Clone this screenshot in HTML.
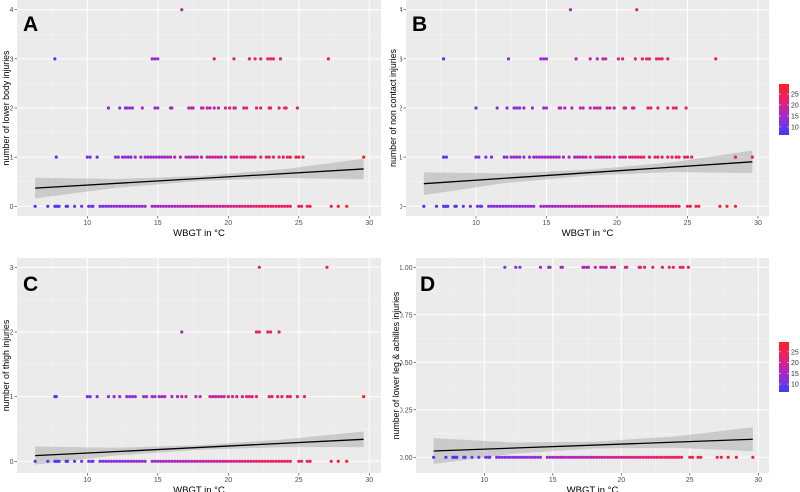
<!DOCTYPE html>
<html><head><meta charset="utf-8"><style>
html,body{margin:0;padding:0;background:#fff;}
svg{display:block;font-family:"Liberation Sans",sans-serif;}
</style></head><body>
<svg id="fig" width="800" height="492" viewBox="0 0 800 492"></svg>
<script>
// ---------- data ----------
const zeroRow=[6.3,7.2,7.7,7.8,7.9,8.0,8.5,8.6,9.1,9.6,10.1,10.3,10.4,10.9,11.1,11.3,11.5,11.7,11.9,12.1,12.3,12.5,12.7,12.9,13.1,13.3,13.5,13.7,13.9,14.1,14.6,14.8,15.0,15.2,15.4,15.6,15.8,16.0,16.2,16.4,16.6,16.8,17.0,17.2,17.4,17.6,17.8,18.0,18.2,18.4,18.6,18.8,19.0,19.2,19.4,19.6,19.8,20.0,20.2,20.4,20.6,20.8,21.0,21.2,21.4,21.6,21.8,22.0,22.2,22.4,22.6,22.8,23.0,23.2,23.4,23.6,23.8,24.0,24.2,24.4,25.0,25.2,25.6,25.8,27.3,27.8,28.4];
const aRow1=[7.8,10.0,10.2,10.7,12.0,12.2,12.5,12.7,12.9,13.1,13.4,13.8,14.1,14.3,14.5,14.7,14.9,15.1,15.3,15.5,15.7,15.9,16.2,16.6,17.0,17.2,17.4,17.6,17.8,18.1,18.5,18.7,18.9,19.1,19.3,19.5,19.8,20.2,20.4,20.6,20.9,21.1,21.3,21.5,21.7,21.9,22.3,22.7,22.9,23.2,23.6,23.9,24.2,24.4,24.8,25.0,25.3,29.6];
const aRow2=[11.5,12.3,12.7,12.8,13.0,13.2,13.9,14.8,15.0,15.9,16.0,17.2,17.4,17.5,18.1,18.2,18.5,18.7,19.0,19.3,19.8,20.1,20.4,20.5,21.1,21.3,22.0,22.3,22.9,23.0,23.6,24.0,24.1,24.9];
const aRow3=[7.7,14.6,14.8,15.0,19.0,20.4,21.5,21.9,22.3,22.8,23.0,23.2,23.7,27.1];
const aRow4=[16.7];
const bRow1=[7.7,7.9,10.0,10.2,10.7,11.1,12.0,12.2,12.5,12.7,12.9,13.1,13.4,13.8,14.1,14.3,14.5,14.7,14.9,15.1,15.3,15.5,15.7,15.9,16.2,16.6,17.0,17.2,17.4,17.6,17.8,18.1,18.5,18.7,18.9,19.1,19.3,19.5,19.8,20.2,20.4,20.6,20.9,21.1,21.3,21.5,21.7,21.9,22.3,22.7,22.9,23.2,23.6,23.9,24.2,24.4,24.8,25.0,25.3,28.4,29.6];
const bRow2=[10.0,11.5,12.2,12.7,12.9,13.1,13.4,14.0,14.8,15.0,15.9,16.0,16.3,16.8,17.4,17.6,18.1,18.4,18.6,18.8,19.3,19.5,19.8,20.5,20.6,21.1,21.2,22.2,22.4,22.9,23.6,24.0,24.2,24.9];
const bRow3=[7.7,12.3,14.6,14.8,15.0,17.1,18.1,18.6,19.0,19.2,20.1,20.4,21.3,21.8,22.1,22.3,22.8,23.0,23.2,23.6,27.0];
const bRow4=[16.7,21.4];
const cRow1=[7.7,7.8,10.0,10.2,10.7,11.5,11.9,12.3,12.8,13.0,13.2,13.4,14.0,14.2,14.6,14.8,15.1,15.3,15.5,16.0,16.4,16.7,17.0,17.7,18.0,18.7,18.9,19.1,19.3,19.5,19.7,20.0,20.3,20.6,21.0,21.3,21.5,21.7,22.0,22.9,23.1,23.5,23.8,24.2,24.4,24.9,25.4,29.6];
const cRow2=[16.7,22.0,22.2,22.8,23.0,23.6];
const cRow3=[22.2,27.0];
const dRow1=[11.5,12.3,12.6,14.1,14.7,14.8,15.6,15.7,17.2,17.3,17.5,17.6,18.1,18.5,18.7,18.9,19.3,19.5,20.3,20.4,21.3,21.4,21.7,22.3,23.0,23.5,23.8,24.3,24.5,24.9];
const dZeroExtra=[27.0,29.6];
// fitted lines: value at x=6.3 and x=29.6; CI half widths at bandX
const bandX=[6.3,12,18,24,29.6];
const fitA=[0.37,0.76], halfA=[0.21,0.09,0.05,0.09,0.21];
const fitB=[0.46,0.905], halfB=[0.23,0.10,0.06,0.10,0.23];
const fitC=[0.088,0.34], halfC=[0.14,0.06,0.035,0.06,0.12];
const fitD=[0.033,0.095], halfD=[0.068,0.03,0.018,0.03,0.063];
const xTicks=[10,15,20,25,30];
const yTicksInt4=[0,1,2,3,4], yTicksInt3=[0,1,2,3];
const yTicksD=[0,0.25,0.5,0.75,1.0];
const yLabelsD=["0.00","0.25","0.50","0.75","1.00"];
const legendTicks=[10,15,20,25];
// ---------- drawing ----------
const NS="http://www.w3.org/2000/svg";
const svg=document.getElementById('fig');
function mk(tag,at,parent){const e=document.createElementNS(NS,tag);for(const k in at)e.setAttribute(k,at[k]);(parent||svg).appendChild(e);return e;}
const defs=mk('defs',{});
const cp=mk('clipPath',{id:'rightClip'},defs);
mk('rect',{x:400,y:0,width:400,height:492},cp);
const cStops=[[6.3,[59,59,255]],[12,[138,47,224]],[17,[181,38,181]],[22,[229,34,114]],[29.6,[255,32,32]]];
function col(v){if(v<=cStops[0][0])return 'rgb('+cStops[0][1]+')';for(let i=1;i<cStops.length;i++){if(v<=cStops[i][0]){const a=cStops[i-1],b=cStops[i];const t=(v-a[0])/(b[0]-a[0]);return 'rgb('+a[1].map((c,j)=>Math.round(c+(b[1][j]-c)*t)).join(',')+')';}}return 'rgb(255,32,32)';}
function panel(o){
  const g=mk('g',{});
  
  
  const sx=v=>o.x10+(v-10)*(o.x30-o.x10)/20;
  const sy=v=>o.y0+(v-o.yMin)*(o.yTop-o.y0)/(o.yMax-o.yMin);
  const bg=mk('rect',{x:o.L,y:o.T,width:o.R-o.L,height:o.B-o.T,fill:'#ebebeb'},g);
  
  
  for(let v=7.5;v<=30;v+=5){const X=sx(v);if(X>o.L&&X<o.R)mk('line',{x1:X,x2:X,y1:o.T,y2:o.B,stroke:'#f5f5f5','stroke-width':0.5},g);}
  for(let i=0;i<o.yt.length-1;i++){const Y=sy((o.yt[i]+o.yt[i+1])/2);mk('line',{x1:o.L,x2:o.R,y1:Y,y2:Y,stroke:'#f5f5f5','stroke-width':0.5},g);}
  xTicks.forEach(v=>{const X=sx(v);mk('line',{x1:X,x2:X,y1:o.T,y2:o.B,stroke:'#fff','stroke-width':1},g);
    mk('line',{x1:X,x2:X,y1:o.B,y2:o.B+2.5,stroke:'#333','stroke-width':0.6},g);
    const t=mk('text',{x:X,y:o.B+9,'font-size':7,fill:'#4d4d4d','text-anchor':'middle'},g);t.textContent=v;
    
    });
  const tg=mk('g',o.clip?{'clip-path':'url(#rightClip)'}:{},g);
  o.yt.forEach((v,i)=>{const Y=sy(v);mk('line',{x1:o.L,x2:o.R,y1:Y,y2:Y,stroke:'#fff','stroke-width':1},g);
    mk('line',{x1:o.L-2.5,x2:o.L,y1:Y,y2:Y,stroke:'#333','stroke-width':0.6},g);
    const t=mk('text',{x:o.L-3.5,y:Y+2.5,'font-size':7,fill:'#4d4d4d','text-anchor':'end'},tg);t.textContent=o.yl?o.yl[i]:v;
    
    });
  const [f0,f1]=o.fit;const fy=x=>f0+(x-6.3)*(f1-f0)/(29.6-6.3);
  let up=bandX.map((x,i)=>sx(x)+','+sy(fy(x)+o.half[i]));
  let lo=bandX.map((x,i)=>sx(x)+','+sy(fy(x)-o.half[i])).reverse();
  const band=mk('polygon',{points:up.concat(lo).join(' '),fill:'#999','fill-opacity':0.4},g);
  
  
  o.rows.forEach(r=>{r.xs.forEach(x=>{const c=mk('circle',{cx:sx(x),cy:sy(r.y),r:1.6,fill:col(x)},g);
    
    });});
  const ln=mk('line',{x1:sx(6.3),y1:sy(f0),x2:sx(29.6),y2:sy(f1),stroke:'#000','stroke-width':1.3},g);
  
  
  const lt=mk('text',{x:o.lx,y:o.ly,'font-size':21,'font-weight':'bold',fill:'#000'},g);lt.textContent=o.id;
  
  
  const xt=mk('text',{x:(o.L+o.R)/2,y:o.B+20,'font-size':9.5,fill:'#000','text-anchor':'middle'},g);xt.textContent='WBGT in °C';
  
  
  const cy=(o.T+o.B)/2;
  const yt=mk('text',{x:o.tx,y:cy,'font-size':8.8,fill:'#000','text-anchor':'middle',transform:'rotate(-90 '+o.tx+' '+cy+')'},g);yt.textContent=o.title;
  
  
}
panel({id:'A',L:17,R:381,T:0,B:216,x10:87.3,x30:369.3,y0:206.3,yTop:9.7,yMin:0,yMax:4,yt:yTicksInt4,fit:fitA,half:halfA,lx:23,ly:31,tx:9,title:'number of lower body injuries',
  rows:[{y:0,xs:zeroRow},{y:1,xs:aRow1},{y:2,xs:aRow2},{y:3,xs:aRow3},{y:4,xs:aRow4}]});
panel({id:'B',L:406,R:769,T:0,B:216,x10:476,x30:758,y0:206.3,yTop:9.7,yMin:0,yMax:4,yt:yTicksInt4,fit:fitB,half:halfB,lx:412,ly:31,tx:396,clip:true,title:'number of non contact injuries',
  rows:[{y:0,xs:zeroRow},{y:1,xs:bRow1},{y:2,xs:bRow2},{y:3,xs:bRow3},{y:4,xs:bRow4}]});
panel({id:'C',L:17,R:381,T:258,B:473,x10:87.3,x30:369.3,y0:461.3,yTop:267.3,yMin:0,yMax:3,yt:yTicksInt3,fit:fitC,half:halfC,lx:23,ly:291,tx:9,title:'number of thigh injuries',
  rows:[{y:0,xs:zeroRow},{y:1,xs:cRow1},{y:2,xs:cRow2},{y:3,xs:cRow3}]});
panel({id:'D',L:416,R:769,T:258,B:473,x10:484.3,x30:758.3,y0:457.3,yTop:267.3,yMin:0,yMax:1,yt:yTicksD,yl:yLabelsD,fit:fitD,half:halfD,lx:420,ly:291,tx:399,clip:true,title:'number of lower leg & achilles injuries',
  rows:[{y:0,xs:zeroRow.concat(dZeroExtra)},{y:1,xs:dRow1}]});
const lg=mk('linearGradient',{id:'cg',x1:0,y1:1,x2:0,y2:0},defs);
cStops.forEach(s=>mk('stop',{offset:(s[0]-6.3)/(29.6-6.3),'stop-color':col(s[0])},lg));
[[84,135],[342,392]].forEach(([t,b])=>{
  const g=mk('g',{});
  
  
  mk('rect',{x:779,y:t,width:10,height:b-t,fill:'url(#cg)'},g);
  legendTicks.forEach(v=>{const Y=b-(v-6.3)/(29.6-6.3)*(b-t);
    mk('line',{x1:779,x2:781,y1:Y,y2:Y,stroke:'#fff','stroke-width':0.5},g);
    mk('line',{x1:787,x2:789,y1:Y,y2:Y,stroke:'#fff','stroke-width':0.5},g);
    const tx=mk('text',{x:791,y:Y+2.5,'font-size':7,fill:'#333'},g);tx.textContent=v;
    
    });
});
</script>
</body></html>
